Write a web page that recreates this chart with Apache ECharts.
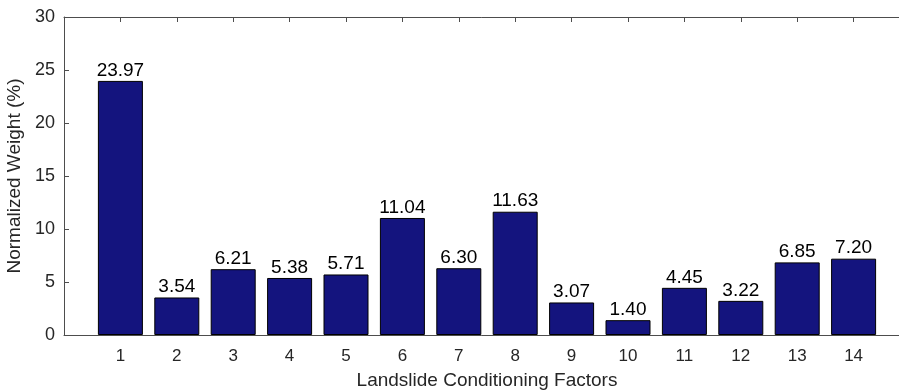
<!DOCTYPE html>
<html>
<head>
<meta charset="utf-8">
<script src="https://cdn.jsdelivr.net/npm/echarts@6/dist/echarts.min.js"></script>
<style>html,body{margin:0;padding:0;background:#fff;}#c{width:899px;height:391px;}</style>
</head>
<body>
<div id="c"></div>
<script>
var factors = [1, 2, 3, 4, 5, 6, 7, 8, 9, 10, 11, 12, 13, 14];
var weights = [23.97, 3.54, 6.21, 5.38, 5.71, 11.04, 6.30, 11.63, 3.07, 1.40, 4.45, 3.22, 6.85, 7.20];
var yTicks = [0, 5, 10, 15, 20, 25, 30];
var xTitle = 'Landslide Conditioning Factors';
var yTitle = 'Normalized Weight (%)';

var chart = echarts.init(document.getElementById('c'), null, {renderer: 'canvas'});
var font = 'Liberation Sans, Arial, sans-serif';
var axisColor = '#4d4d4d';
var data = factors.map(function (f, i) { return [f, weights[i]]; });
chart.setOption({
  animation: false,
  backgroundColor: '#fff',
  grid: {left: 64, top: 17, width: 846, height: 318, containLabel: false, outerBoundsMode: 'none'},
  xAxis: [{
    type: 'value', min: 0, max: 15, interval: 1, position: 'bottom',
    name: xTitle, nameLocation: 'middle', nameGap: 36,
    nameTextStyle: {fontFamily: font, fontSize: 19, color: '#262626'},
    axisLine: {show: true, lineStyle: {color: axisColor, width: 1}},
    axisTick: {show: true, inside: true, length: 5, lineStyle: {color: axisColor}},
    axisLabel: {fontFamily: font, fontSize: 17, color: '#262626', margin: 13,
      formatter: function (v) { return factors.indexOf(v) >= 0 ? String(v) : ''; }},
    splitLine: {show: false}
  }, {
    type: 'value', min: 0, max: 15, interval: 1, position: 'top',
    axisLine: {show: true, lineStyle: {color: axisColor, width: 1}},
    axisTick: {show: true, inside: true, length: 5, lineStyle: {color: axisColor}},
    axisLabel: {show: false},
    splitLine: {show: false}
  }],
  yAxis: {
    type: 'value', min: yTicks[0], max: yTicks[yTicks.length - 1], interval: 5,
    name: yTitle, nameLocation: 'middle', nameGap: 34, nameRotate: 90,
    nameTextStyle: {fontFamily: font, fontSize: 19, color: '#262626'},
    axisLine: {show: true, lineStyle: {color: axisColor, width: 1}},
    axisTick: {show: true, inside: true, length: 5, lineStyle: {color: axisColor}},
    axisLabel: {fontFamily: font, fontSize: 18, color: '#262626', margin: 9},
    splitLine: {show: false}
  },
  series: [{
    type: 'bar', xAxisIndex: 0, data: data, barWidth: 45,
    itemStyle: {color: '#14147e', borderColor: '#000', borderWidth: 1},
    label: {show: true, position: 'top', distance: 1, fontFamily: font, fontSize: 19, color: '#000',
      formatter: function (p) { return p.value[1].toFixed(2); }}
  }]
});
</script>
</body>
</html>
